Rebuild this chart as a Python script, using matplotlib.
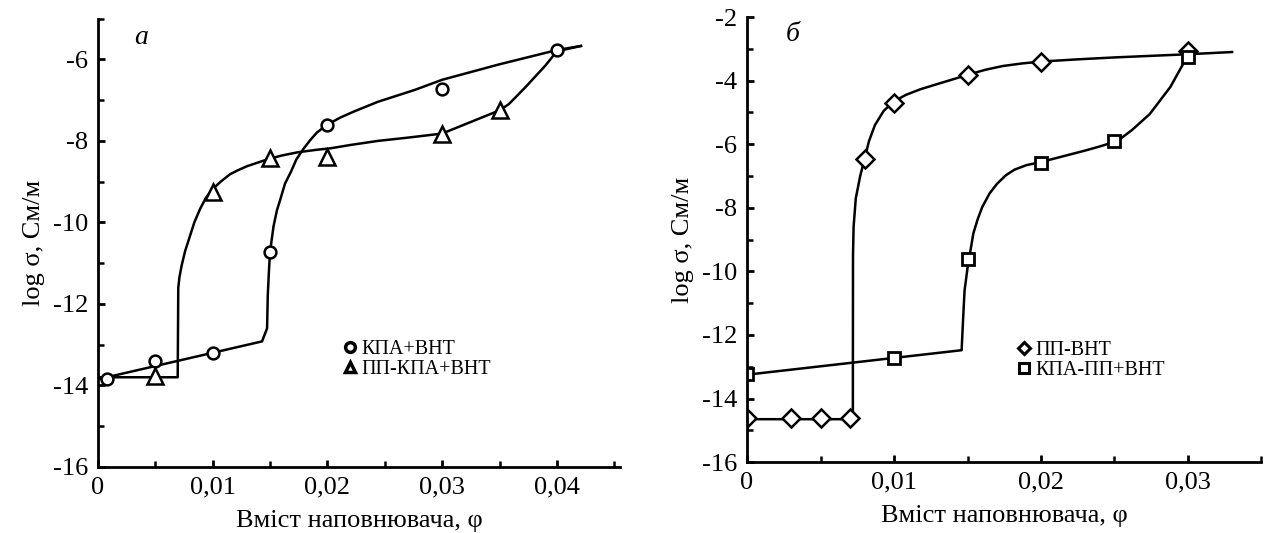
import numpy as np
import matplotlib
matplotlib.use('Agg')
import matplotlib.pyplot as plt
from matplotlib.ticker import MultipleLocator, FuncFormatter
from matplotlib.lines import Line2D

# ---- panel a : measured points ----
a_circ_x = [0.0008, 0.005, 0.010, 0.015, 0.020, 0.030, 0.040]
a_circ_y = [-13.85, -13.40, -13.20, -10.72, -7.60, -6.72, -5.77]
a_tri_x = [0.005, 0.010, 0.015, 0.020, 0.030, 0.035]
a_tri_y = [-13.78, -9.25, -8.43, -8.40, -7.82, -7.25]

# ---- panel a : fitted curves ----
a_circ_fit_x = [0.0, 0.0143, 0.01474, 0.0148, 0.0149, 0.0150, 0.0153, 0.0156, 0.0159,
                0.0163, 0.0168, 0.0173, 0.0179, 0.0185, 0.0191, 0.0200, 0.0211, 0.0223,
                0.0244, 0.0276, 0.0300, 0.0350, 0.0400, 0.0421]
a_circ_fit_y = [-13.85, -12.92, -12.6, -11.8, -11.2, -10.72, -10.1, -9.7, -9.43,
                -9.05, -8.77, -8.45, -8.2, -7.98, -7.79, -7.6, -7.43, -7.28,
                -7.04, -6.75, -6.5, -6.12, -5.77, -5.67]
a_tri_fit_x = [0.0, 0.00695, 0.00700, 0.0071, 0.0073, 0.0076, 0.0080, 0.0084, 0.0089,
               0.0094, 0.0100, 0.0107, 0.0115, 0.0122, 0.0130, 0.0148, 0.0160, 0.0174,
               0.0190, 0.0203, 0.0220, 0.0244, 0.0270, 0.0300, 0.0350, 0.0358, 0.0372,
               0.0390, 0.0400, 0.0421]
a_tri_fit_y = [-13.8, -13.8, -11.6, -11.35, -11.05, -10.7, -10.35, -10.0, -9.67,
               -9.4, -9.18, -9.0, -8.82, -8.72, -8.62, -8.45, -8.36, -8.28,
               -8.22, -8.18, -8.1, -8.0, -7.92, -7.82, -7.25, -7.1, -6.7,
               -6.15, -5.8, -5.67]

# ---- panel b : measured points ----
b_dia_x = [0.0, 0.003, 0.005, 0.007, 0.008, 0.010, 0.015, 0.020, 0.030]
b_dia_y = [-14.6, -14.6, -14.6, -14.6, -6.45, -4.69, -3.81, -3.41, -3.07]
b_sq_x = [0.0, 0.010, 0.015, 0.020, 0.025, 0.030]
b_sq_y = [-13.23, -12.71, -9.6, -6.58, -5.9, -3.25]

# ---- panel b : fitted curves ----
b_dia_fit_x = [0.0, 0.0072, 0.00721, 0.00725, 0.0074, 0.0077, 0.0080, 0.0083, 0.0087,
               0.0093, 0.0100, 0.0108, 0.0118, 0.0130, 0.0140, 0.0150, 0.0162, 0.0174,
               0.0187, 0.0200, 0.0225, 0.0250, 0.0300, 0.0330]
b_dia_fit_y = [-14.65, -14.65, -9.5, -8.6, -7.7, -7.0, -6.45, -5.9, -5.4,
               -4.95, -4.65, -4.45, -4.27, -4.1, -3.96, -3.82, -3.66, -3.54,
               -3.46, -3.4, -3.33, -3.27, -3.17, -3.1]
b_sq_fit_x = [0.0, 0.0146, 0.0147, 0.0148, 0.0150, 0.0152, 0.0154, 0.0157, 0.0160,
              0.0165, 0.0170, 0.0176, 0.0182, 0.0190, 0.0200, 0.0215, 0.0230, 0.0240,
              0.0252, 0.0262, 0.0274, 0.0288, 0.0300]
b_sq_fit_y = [-13.25, -12.48, -11.5, -10.6, -9.9, -9.35, -8.8, -8.35, -7.98,
              -7.55, -7.25, -6.98, -6.8, -6.66, -6.56, -6.38, -6.2, -6.07,
              -5.9, -5.55, -5.05, -4.2, -3.2]

xlabel = 'Вміст наповнювача, φ'
ylabel = 'log σ, См/м'
a_labels = ['КПА+ВНТ', 'ПП-КПА+ВНТ']
b_labels = ['ПП-ВНТ', 'КПА-ПП+ВНТ']

plt.rcParams['font.family'] = ['Liberation Serif', 'DejaVu Serif']
plt.rcParams['axes.unicode_minus'] = False
fs = 19


def comma_fmt(v, pos):
	if abs(v) < 1e-12:
		return '0'
	return ('%.2f' % v).replace('.', ',')


def style_axes(ax, xmax, ymin, ymax):
	ax.set_xlim(0, xmax)
	ax.set_ylim(ymin, ymax)
	for s in ['top', 'right']:
		ax.spines[s].set_visible(False)
	for s in ['left', 'bottom']:
		ax.spines[s].set_linewidth(2.0)
	ax.xaxis.set_major_locator(MultipleLocator(0.01))
	ax.xaxis.set_minor_locator(MultipleLocator(0.005))
	ax.yaxis.set_major_locator(MultipleLocator(2))
	ax.yaxis.set_minor_locator(MultipleLocator(1))
	ax.xaxis.set_major_formatter(FuncFormatter(comma_fmt))
	ax.tick_params(which='major', direction='in', length=5, width=2, labelsize=fs, pad=7)
	ax.tick_params(which='minor', direction='in', length=4, width=1.8)
	ax.set_xlabel(xlabel, fontsize=fs, labelpad=8)
	ax.set_ylabel(ylabel, fontsize=fs, labelpad=6)


fig = plt.figure(figsize=(12.64, 5.33), dpi=100)

# panel a
ax1 = fig.add_axes([0.0775, 0.124, 0.413, 0.841])
ax1.plot(a_circ_fit_x, a_circ_fit_y, color='black', linewidth=1.8)
ax1.plot(a_tri_fit_x, a_tri_fit_y, color='black', linewidth=1.8)
ax1.plot(a_circ_x, a_circ_y, linestyle='none', marker='o', markersize=8.5,
	markerfacecolor='white', markeredgecolor='black', markeredgewidth=1.8)
ax1.plot(a_tri_x, a_tri_y, linestyle='none', marker='^', markersize=12,
	markerfacecolor='white', markeredgecolor='black', markeredgewidth=1.8)
style_axes(ax1, 0.0455, -16, -5)
ax1.text(0.082, 0.959, 'а', transform=ax1.transAxes, fontsize=fs + 1, style='italic',
	ha='center', va='center')
h1 = [Line2D([], [], linestyle='none', marker='o', markersize=7, markerfacecolor='white',
	markeredgecolor='black', markeredgewidth=2.5),
	Line2D([], [], linestyle='none', marker='^', markersize=7, markerfacecolor='white',
	markeredgecolor='black', markeredgewidth=2.5)]
ax1.legend(h1, a_labels, loc='upper left', bbox_to_anchor=(0.272, 0.362),
	bbox_transform=fig.transFigure, frameon=False, fontsize=14.5, handlelength=0.6,
	handletextpad=0.3, labelspacing=0.05, borderpad=0, borderaxespad=0)

# panel b
ax2 = fig.add_axes([0.591, 0.133, 0.407, 0.835])
ax2.plot(b_dia_fit_x, b_dia_fit_y, color='black', linewidth=1.8)
ax2.plot(b_sq_fit_x, b_sq_fit_y, color='black', linewidth=1.8)
ax2.plot(b_dia_x, b_dia_y, linestyle='none', marker='D', markersize=9,
	markerfacecolor='white', markeredgecolor='black', markeredgewidth=1.8)
ax2.plot(b_sq_x, b_sq_y, linestyle='none', marker='s', markersize=9,
	markerfacecolor='white', markeredgecolor='black', markeredgewidth=2.0)
style_axes(ax2, 0.035, -16, -2)
ax2.text(0.089, 0.96, 'б', transform=ax2.transAxes, fontsize=fs + 1, style='italic',
	ha='center', va='center')
h2 = [Line2D([], [], linestyle='none', marker='D', markersize=6, markerfacecolor='white',
	markeredgecolor='black', markeredgewidth=2.2),
	Line2D([], [], linestyle='none', marker='s', markersize=7, markerfacecolor='white',
	markeredgecolor='black', markeredgewidth=2.2)]
ax2.legend(h2, b_labels, loc='upper left', bbox_to_anchor=(0.805, 0.36),
	bbox_transform=fig.transFigure, frameon=False, fontsize=14.5, handlelength=0.6,
	handletextpad=0.3, labelspacing=0.05, borderpad=0, borderaxespad=0)

plt.savefig('out.png', dpi=100)
